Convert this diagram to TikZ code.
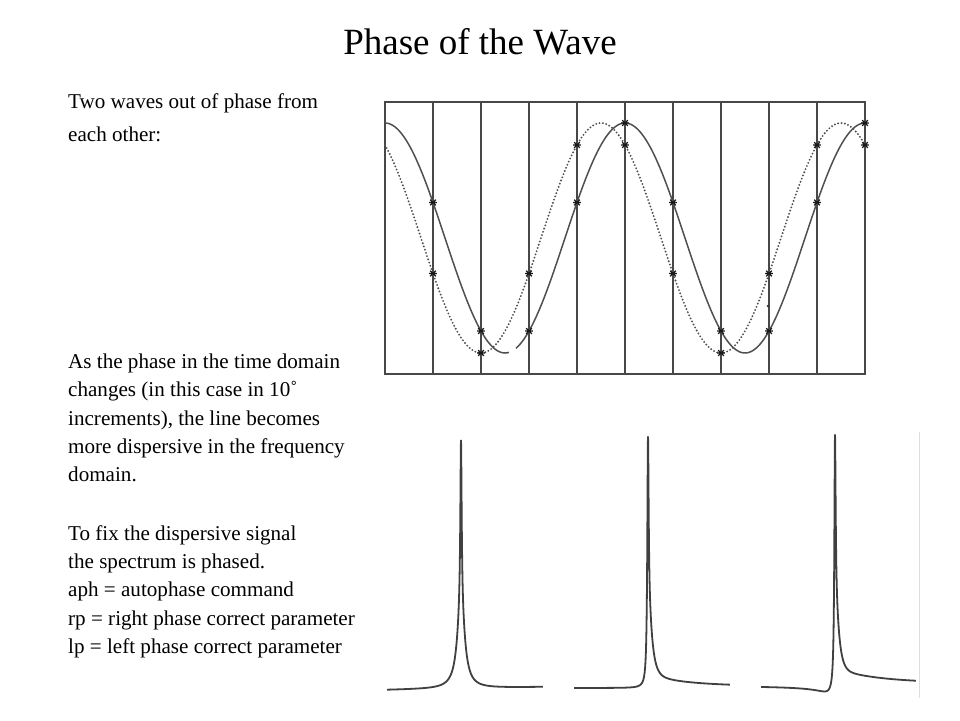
\documentclass[tikz,border=0pt]{standalone}
\usepackage{fontspec}
\setmainfont{Liberation Serif}
\definecolor{framecol}{HTML}{484848}
\definecolor{wavecol}{HTML}{505050}
\definecolor{speccol}{HTML}{404040}
\definecolor{faintcol}{HTML}{DDDDDD}
\tikzset{
  bodytext/.style={anchor=base west, inner sep=0pt, font=\fontsize{21.1}{28}\selectfont},
  titletext/.style={anchor=base, inner sep=0pt, font=\fontsize{37}{42}\selectfont},
  frameline/.style={draw=framecol, line width=2pt},
  gridline/.style={draw=framecol, line width=1.6pt},
  solidwave/.style={draw=wavecol, line width=1.5pt},
  dotwave/.style={draw=wavecol, line width=2.1pt, line cap=round, dash pattern=on 0pt off 3.4pt},
  specline/.style={draw=speccol, line width=1.8pt, line join=round},
  markline/.style={draw=black!90, line width=1.3pt},
  wmark/.pic={\draw[markline] (-3.8,0)--(3.8,0) (-2.8,-2.8)--(2.8,2.8) (-2.8,2.8)--(2.8,-2.8);}
}
\begin{document}
\begin{tikzpicture}[x=1pt,y=-1pt]
\useasboundingbox (0,0) rectangle (960,720);
\fill[white] (0,0) rectangle (960,720);

% ---- texts ----
\node[titletext] (title) at (480,54) {Phase of the Wave};
\node[bodytext] (a1) at (68,108) {Two waves out of phase from};
\node[bodytext] (a2) at (68,141) {each other:};
\node[bodytext] (b1) at (68,368) {As the phase in the time domain};
\node[bodytext] (b2) at (68,396.5) {changes (in this case in 10˚};
\node[bodytext] (b3) at (68,425) {increments), the line becomes};
\node[bodytext] (b4) at (68,453.3) {more dispersive in the frequency};
\node[bodytext] (b5) at (68,481.7) {domain.};
\node[bodytext] (c1) at (68,540) {To fix the dispersive signal};
\node[bodytext] (c2) at (68,568.3) {the spectrum is phased.};
\node[bodytext] (c3) at (68,596.7) {aph = autophase command};
\node[bodytext] (c4) at (68,625) {rp = right phase correct parameter};
\node[bodytext] (c5) at (68,653.3) {lp = left phase correct parameter};

% ---- wave plot ----
\foreach \gx in {433,481,529,577,625,673,721,769,817}
  \draw[gridline] (\gx,102) -- (\gx,374);
\draw[frameline] (385,102) rectangle (865,374);

% dotted wave (leading by 36 degrees)
\draw[dotwave] plot[domain=385:865, samples=241, smooth] (\x,{238-115*cos(1.5*(\x-361))});
% solid wave, with a small break at the first trough
\draw[solidwave] plot[domain=385:509, samples=63, smooth] (\x,{238-115*cos(1.5*(\x-385))});
\draw[solidwave] plot[domain=516:865, samples=176, smooth] (\x,{238-115*cos(1.5*(\x-385))});

% markers where the waves cross the grid lines
\foreach \gx in {433,481,529,577,625,673,721,769,817,865}{
  \pic at (\gx,{238-115*cos(1.5*(\gx-385))}) {wmark};
  \pic at (\gx,{238-115*cos(1.5*(\gx-361))}) {wmark};
}
\fill[black!80] (768,306) circle (1.4pt);

% ---- spectra ----
% spectrum 1: in phase (absorptive)
\draw[specline]
  plot[domain=1:0, samples=180, variable=\t]
    ({461-74*\t^3},{690-3*(74-74*\t^3)/156 - 168/(1+(74*\t^3/0.8)^2) - 80/(1+(74*\t^3/4.5)^2)})
  -- plot[domain=0:1, samples=180, variable=\t]
    ({461+82*\t^3},{690-3*(74+82*\t^3)/156 - 168/(1+(82*\t^3/0.8)^2) - 80/(1+(82*\t^3/4.5)^2)});
% spectrum 2: slightly dispersive
\draw[specline]
  plot[domain=1:0, samples=180, variable=\t]
    ({648-74*\t^3},{688 - 171/(1+(74*\t^3/0.8)^2) - 80/(1+(74*\t^3/1.0)^2)})
  -- plot[domain=0:1, samples=180, variable=\t]
    ({648+82*\t^3},{688 - 171/(1+(82*\t^3/0.8)^2) - 80/(1+(82*\t^3/4.5)^2)
      - 11*(82*\t^3/25)/((82*\t^3/25)^2+1)});
% spectrum 3: more dispersive
\draw[specline]
  plot[domain=1:0, samples=180, variable=\t]
    ({835-74*\t^3},{685.5 - 250.5/(1+(74*\t^3/0.8)^2) + 16*(74*\t^3/7)/((74*\t^3/7)^2+1)})
  -- plot[domain=0:1, samples=180, variable=\t]
    ({835+81*\t^3},{685.5 - 170.5/(1+(81*\t^3/0.8)^2) - 80/(1+(81*\t^3/4.5)^2)
      - 16*(81*\t^3/25)/((81*\t^3/25)^2+1)});
\draw[draw=faintcol, line width=1pt] (919.5,432) -- (919.5,698);
\end{tikzpicture}
\end{document}
